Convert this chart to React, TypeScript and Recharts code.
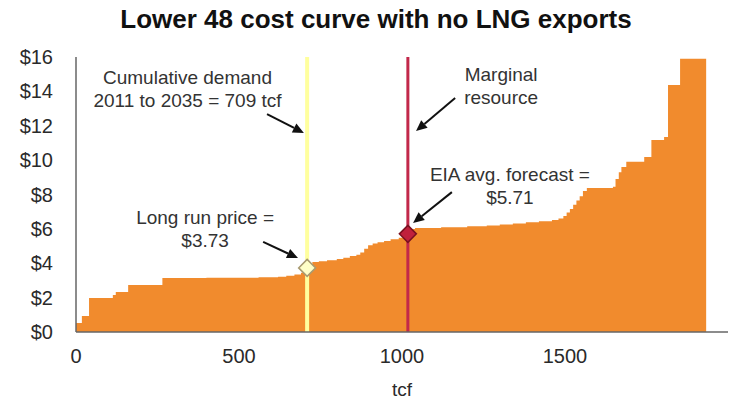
import React from 'react';
import { ComposedChart, Area, XAxis, YAxis, ReferenceLine, ReferenceDot } from 'recharts';

// Cumulative resource (tcf) where each cost step begins, and its price ($/MMBtu)
const tcfPoints = [0, 18, 40, 113, 122, 160, 265, 400, 560, 620, 645, 670, 690, 703, 712, 725, 745, 770, 800, 820, 840, 860, 872, 884, 896, 910, 925, 945, 965, 990, 1009, 1018, 1040, 1120, 1200, 1260, 1300, 1340, 1380, 1420, 1460, 1480, 1495, 1505, 1515, 1525, 1535, 1545, 1555, 1567, 1647, 1655, 1665, 1673, 1688, 1743, 1765, 1804, 1816, 1853, 1933];
const pricePoints = [0.52, 0.93, 1.98, 2.15, 2.33, 2.73, 3.14, 3.16, 3.18, 3.22, 3.28, 3.35, 3.45, 3.6, 3.95, 4.08, 4.12, 4.18, 4.25, 4.32, 4.42, 4.5, 4.62, 4.85, 5.05, 5.15, 5.22, 5.3, 5.4, 5.48, 5.55, 6.0, 6.05, 6.1, 6.15, 6.2, 6.25, 6.32, 6.38, 6.45, 6.52, 6.6, 6.75, 6.95, 7.15, 7.4, 7.65, 7.9, 8.2, 8.38, 8.45, 8.9, 9.3, 9.6, 9.9, 10.18, 11.17, 11.34, 14.37, 15.9, 0];

const xTicks = [0, 500, 1000, 1500];
const yTicks = [0, 2, 4, 6, 8, 10, 12, 14, 16];

const demandTcf = 709;
const longRunPrice = 3.73;
const marginalTcf = 1018;
const eiaPrice = 5.71;

const annotations = [
  { x: 342, y: 14.43, lines: ['Cumulative demand', '2011 to 2035 = 709 tcf'] },
  { x: 396, y: 6.28, lines: ['Long run price =', '$3.73'] },
  { x: 1304, y: 14.6, lines: ['Marginal', 'resource'] },
  { x: 1331, y: 8.78, lines: ['EIA avg. forecast =', '$5.71'] },
];

const arrows = [
  { x1: 586, y1: 12.68, x2: 699, y2: 11.58 },
  { x1: 574, y1: 5.24, x2: 681, y2: 4.3 },
  { x1: 1163, y1: 13.61, x2: 1043, y2: 11.69 },
  { x1: 1153, y1: 8.14, x2: 1034, y2: 6.34 },
];

const data = tcfPoints.map((t, i) => ({ tcf: t, price: pricePoints[i] }));

const FONT = '"Liberation Sans", Arial, sans-serif';
const ORANGE = '#F18B2D';

function ArrowShape(p: any) {
  const { x1, y1, x2, y2 } = p;
  const ang = Math.atan2(y2 - y1, x2 - x1);
  const L = 11;
  const W = 5;
  const c = Math.cos(ang);
  const s = Math.sin(ang);
  const bx = x2 - L * c;
  const by = y2 - L * s;
  return (
    <g>
      <line x1={x1} y1={y1} x2={bx} y2={by} stroke="#111" strokeWidth={2} />
      <polygon points={`${x2},${y2} ${bx + W * s},${by - W * c} ${bx - W * s},${by + W * c}`} fill="#111" />
    </g>
  );
}

function makeDiamond(fill: string, stroke: string) {
  return (p: any) => {
    const { cx, cy } = p;
    const h = 8.5;
    return (
      <polygon
        points={`${cx},${cy - h} ${cx + h},${cy} ${cx},${cy + h} ${cx - h},${cy}`}
        fill={fill}
        stroke={stroke}
        strokeWidth={1.5}
      />
    );
  };
}

function makeText(lines: string[]) {
  return (p: any) => (
    <text x={p.cx} y={p.cy} textAnchor="middle" fontFamily={FONT} fontSize={19} fill="#333">
      {lines.map((l, i) => (
        <tspan key={i} x={p.cx} dy={i === 0 ? 0 : 23}>
          {l}
        </tspan>
      ))}
    </text>
  );
}

export default function App() {
  return (
    <div style={{ position: 'absolute', left: 0, top: 0, width: 733, height: 401, background: '#fff' }}>
      <div
        style={{
          position: 'absolute',
          left: 0,
          top: 4,
          width: 752,
          textAlign: 'center',
          fontFamily: FONT,
          fontWeight: 'bold',
          fontSize: 26,
          lineHeight: '30px',
          color: '#111',
        }}
      >
        Lower 48 cost curve with no LNG exports
      </div>
      <ComposedChart width={733} height={401} data={data} margin={{ top: 57, right: 5, bottom: 0, left: 0 }}>
        <XAxis
          type="number"
          dataKey="tcf"
          domain={[0, 2000]}
          ticks={xTicks}
          tickLine={false}
          tickMargin={11}
          height={69}
          axisLine={{ stroke: '#666', strokeWidth: 1.5 }}
          tick={{ fontFamily: FONT, fontSize: 20, fill: '#2a2a2a' }}
          label={{ value: 'tcf', position: 'insideBottom', offset: 5, fontFamily: FONT, fontSize: 19, fill: '#2a2a2a' }}
        />
        <YAxis
          type="number"
          domain={[0, 16]}
          ticks={yTicks}
          width={76}
          tickLine={false}
          tickMargin={17}
          axisLine={{ stroke: '#666', strokeWidth: 1.5 }}
          tickFormatter={(v: number) => `$${v}`}
          tick={{ fontFamily: FONT, fontSize: 20, fill: '#2a2a2a' }}
        />
        <Area
          type="stepAfter"
          dataKey="price"
          fill={ORANGE}
          fillOpacity={1}
          stroke="none"
          isAnimationActive={false}
        />
        <ReferenceLine x={demandTcf} stroke="#FFFF9E" strokeWidth={4} />
        <ReferenceLine x={marginalTcf} stroke="#C2284A" strokeWidth={3} />
        <ReferenceDot x={demandTcf} y={longRunPrice} r={8} shape={makeDiamond('#FFFFC8', '#A89A70')} />
        <ReferenceDot x={marginalTcf} y={eiaPrice} r={8} shape={makeDiamond('#C0203C', '#7A1020')} />
        {arrows.map((a, i) => (
          <ReferenceLine
            key={'a' + i}
            segment={[{ x: a.x1, y: a.y1 }, { x: a.x2, y: a.y2 }]}
            shape={ArrowShape}
          />
        ))}
        {annotations.map((a, i) => (
          <ReferenceDot key={'t' + i} x={a.x} y={a.y} r={1} shape={makeText(a.lines)} />
        ))}
      </ComposedChart>
    </div>
  );
}
